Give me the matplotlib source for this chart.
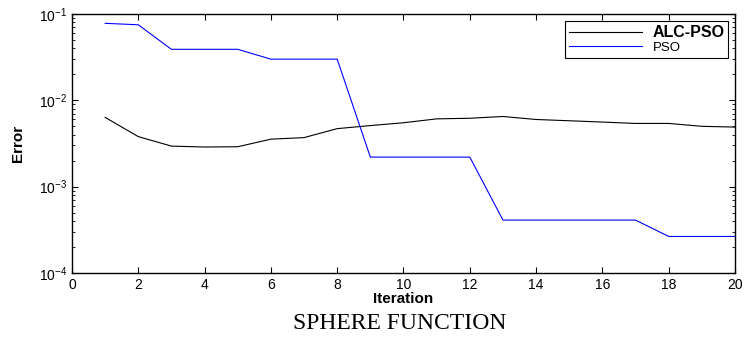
import numpy as np
import matplotlib
matplotlib.use('Agg')
import matplotlib.pyplot as plt
from matplotlib.ticker import LogLocator, NullFormatter

iteration = list(range(1, 21))
alc_pso = [0.00635, 0.0038, 0.00295, 0.00288, 0.0029, 0.00355, 0.0037, 0.0047, 0.0051, 0.0055,
           0.0061, 0.0062, 0.0065, 0.0060, 0.0058, 0.0056, 0.0054, 0.0054, 0.0050, 0.0049]
pso = [0.078, 0.075, 0.039, 0.039, 0.039, 0.030, 0.030, 0.030, 0.0022, 0.0022,
       0.0022, 0.0022, 0.00041, 0.00041, 0.00041, 0.00041, 0.00041, 0.000265, 0.000265, 0.000265]

plt.rcParams['font.family'] = ['Liberation Sans', 'DejaVu Sans']

fig = plt.figure(figsize=(7.45, 3.39), dpi=100)
ax = fig.add_axes([0.0966, 0.1947, 0.89, 0.764])

ax.plot(iteration, alc_pso, color='black', lw=0.8, label='ALC-PSO')
ax.plot(iteration, pso, color='blue', lw=0.8, label='PSO')

ax.set_yscale('log')
ax.set_xlim(0, 20)
ax.set_ylim(1e-4, 1e-1)
ax.set_xticks(range(0, 21, 2))
ax.yaxis.set_major_locator(LogLocator(base=10, numticks=10))
ax.yaxis.set_minor_locator(LogLocator(base=10, subs=np.arange(2, 10), numticks=10))
ax.yaxis.set_minor_formatter(NullFormatter())
ax.tick_params(which='both', direction='in', top=True, right=True, labelsize=10)
ax.tick_params(which='major', length=4)
ax.tick_params(which='minor', length=2.5)
for s in ax.spines.values():
    s.set_linewidth(1.0)

ax.set_xlabel('Iteration', fontsize=11, fontweight='bold', labelpad=0)
ax.set_ylabel('Error', fontsize=11, fontweight='bold', labelpad=10)

leg = ax.legend(loc='upper right', fancybox=False, edgecolor='black', framealpha=1,
                fontsize=9.5, borderaxespad=0.5, handlelength=5.5, borderpad=0.3,
                labelspacing=0.15, handletextpad=0.8)
leg.get_frame().set_linewidth(0.8)
leg.get_texts()[0].set_fontweight('bold')
leg.get_texts()[0].set_fontsize(11.5)

fig.text(0.537, 0.045, 'SPHERE FUNCTION', ha='center', va='center',
         fontsize=17, family='Liberation Serif')

fig.savefig('out.png', dpi=100)
